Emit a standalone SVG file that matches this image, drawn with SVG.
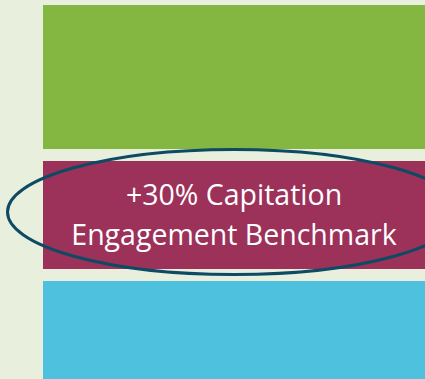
<svg xmlns="http://www.w3.org/2000/svg" width="425" height="379" viewBox="0 0 425 379">
<style>
.lbl{font-family:"Open Sans","Noto Sans",sans-serif;font-size:28.5px;fill:#ffffff;text-anchor:middle}
</style>
<rect x="0" y="0" width="425" height="379" fill="#e9efdd"/>
<g id="green-band"><rect x="43" y="5" width="382" height="144" fill="#84b642"/></g>
<g id="maroon-band"><rect x="43" y="161" width="382" height="108" fill="#9c3159"/>
<text class="lbl" x="234" y="205">+30% Capitation</text>
<text class="lbl" x="234" y="245">Engagement Benchmark</text></g>
<g id="blue-band"><rect x="43" y="281" width="382" height="98" fill="#4ec1de"/></g>
<g id="highlight"><ellipse cx="234" cy="212" rx="226.5" ry="62.5" fill="none" stroke="#0d4a63" stroke-width="3"/></g>
</svg>
